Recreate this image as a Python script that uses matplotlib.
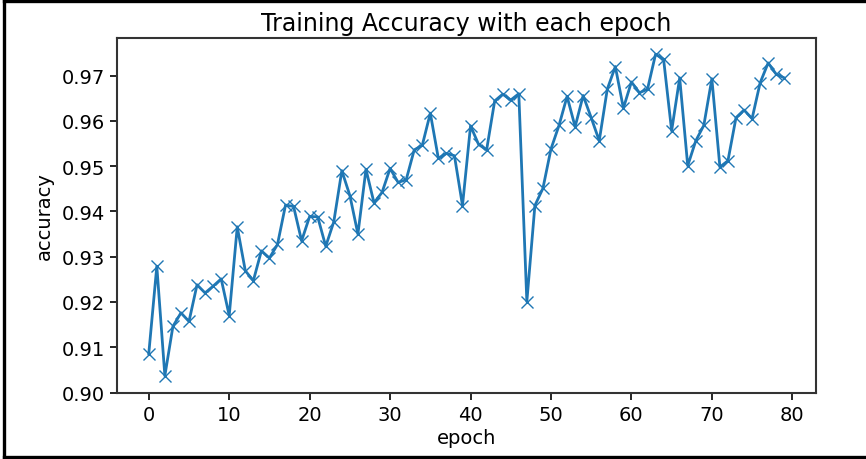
import matplotlib
matplotlib.use("Agg")
import matplotlib.pyplot as plt
from matplotlib.lines import Line2D

# accuracy per epoch
epochs = list(range(80))
accuracy = [
    0.9086, 0.9279, 0.9037, 0.9146, 0.9176, 0.9157, 0.9238, 0.9220, 0.9235, 0.9251,
    0.9170, 0.9366, 0.9269, 0.9247, 0.9313, 0.9297, 0.9327, 0.9414, 0.9411, 0.9335,
    0.9389, 0.9388, 0.9323, 0.9377, 0.9490, 0.9435, 0.9350, 0.9493, 0.9419, 0.9442,
    0.9495, 0.9464, 0.9470, 0.9536, 0.9546, 0.9617, 0.9517, 0.9528, 0.9523, 0.9413,
    0.9589, 0.9548, 0.9536, 0.9644, 0.9659, 0.9646, 0.9660, 0.9201, 0.9413, 0.9451,
    0.9538, 0.9590, 0.9654, 0.9587, 0.9656, 0.9607, 0.9556, 0.9670, 0.9720, 0.9628,
    0.9686, 0.9662, 0.9670, 0.9747, 0.9736, 0.9578, 0.9695, 0.9501, 0.9556, 0.9590,
    0.9693, 0.9498, 0.9512, 0.9607, 0.9624, 0.9605, 0.9684, 0.9728, 0.9703, 0.9695,
]

fig = plt.figure(figsize=(8.66, 4.6), dpi=100)
ax = fig.add_axes([0.1351, 0.1435, 0.8072, 0.7717])

ax.plot(epochs, accuracy, marker='x', color='#1f77b4', linewidth=2, markersize=8)
ax.set_ylim(0.8999, 0.9783)
ax.set_title('Training Accuracy with each epoch', fontsize=17)
ax.set_xlabel('epoch', fontsize=14, labelpad=3)
ax.set_ylabel('accuracy', fontsize=14, labelpad=6)
ax.tick_params(labelsize=14, width=1.2, length=5)
for s in ax.spines.values():
    s.set_linewidth(1.5)
    s.set_color('#333333')

# frame round the picture: left, top and bottom only
for xs, ys in [([0.005, 0.005], [0.005, 0.995]),
               ([0.005, 1.0], [0.995, 0.995]),
               ([0.005, 1.0], [0.005, 0.005])]:
    fig.add_artist(Line2D(xs, ys, transform=fig.transFigure, color='black', linewidth=2.4))

fig.savefig('out.png', dpi=100)
